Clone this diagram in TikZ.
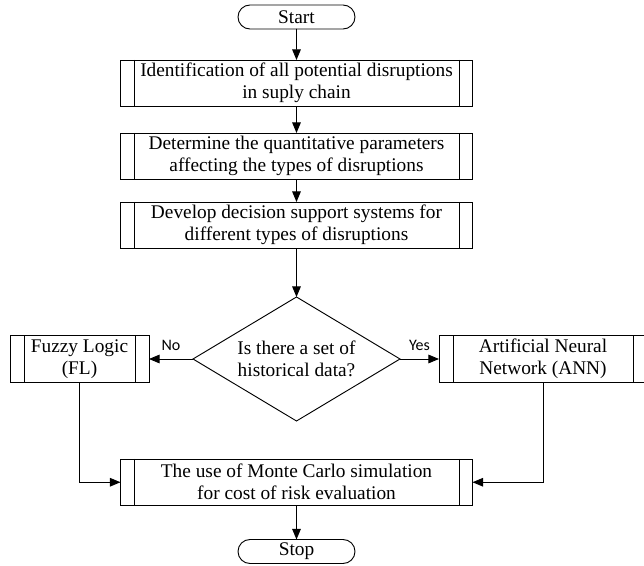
\documentclass[tikz,border=0pt]{standalone}
\usepackage{fontspec}
\setmainfont{Liberation Serif}
\newfontfamily\labelfont{Carlito}
\usetikzlibrary{arrows.meta,positioning,shapes.geometric,shapes.misc}

\begin{document}
\begin{tikzpicture}[x=0.75pt,y=-0.75pt,->,>={Triangle[length=8pt,width=6.5pt]},
                    line width=0.7pt,font=\fontsize{14.5}{16.5}\selectfont]
  \tikzstyle{every node}=[outer sep=0pt]
  \tikzstyle{terminal}=[draw,rounded rectangle,minimum width=87.75pt,minimum height=18pt,inner sep=0pt]
  \tikzstyle{process}=[draw,rectangle,minimum width=264pt,minimum height=34.875pt,inner sep=0pt,align=center,
                       path picture={\draw[-] ([xshift=10.5pt]path picture bounding box.north west) -- ([xshift=10.5pt]path picture bounding box.south west);
                                     \draw[-] ([xshift=-10pt]path picture bounding box.north east) -- ([xshift=-10pt]path picture bounding box.south east);}]
  \tikzstyle{decision}=[draw,diamond,aspect=1.67,minimum width=155.25pt,minimum height=93pt,inner sep=0pt,align=center]
  \tikzstyle{answer}=[above=3pt,font=\labelfont\fontsize{12}{13}\selectfont]
  \useasboundingbox (0,0) rectangle (644,566);

  \node[terminal]	(start)	at (296.5,17)	{Start};
  \node[process]	(ident)	[below=23.25pt of start]	{Identification of all potential disruptions\\in suply chain};
  \node[process]	(param)	[below=19.875pt of ident]	{Determine the quantitative parameters\\affecting the types of disruptions};
  \node[process]	(dss)	[below=16.875pt of param]	{Develop decision support systems for\\different types of disruptions};
  \node[decision]	(hist)	[below=36.375pt of dss]	{Is there a set of\\historical data?};
  \node[process]	(fuzzy)	[left=33pt of hist,minimum width=104.25pt]	{Fuzzy Logic\\(FL)};
  \node[process]	(ann)	[right=29.25pt of hist,minimum width=156pt]	{Artificial Neural\\Network (ANN)};
  \node[process]	(mc)	[below=28.5pt of hist]	{The use of Monte Carlo simulation\\for cost of risk evaluation};
  \node[terminal]	(stop)	[below=25.5pt of mc]	{Stop};

  \path (start) edge	(ident)
        (ident) edge	(param)
        (param) edge	(dss)
        (dss)   edge	(hist)
        (hist)  edge	node[answer] {No}	(fuzzy)
                edge	node[answer] {Yes}	(ann)
        (mc)    edge	(stop);
  \draw (fuzzy) |- (mc);
  \draw (ann)   |- (mc);
\end{tikzpicture}
\end{document}
